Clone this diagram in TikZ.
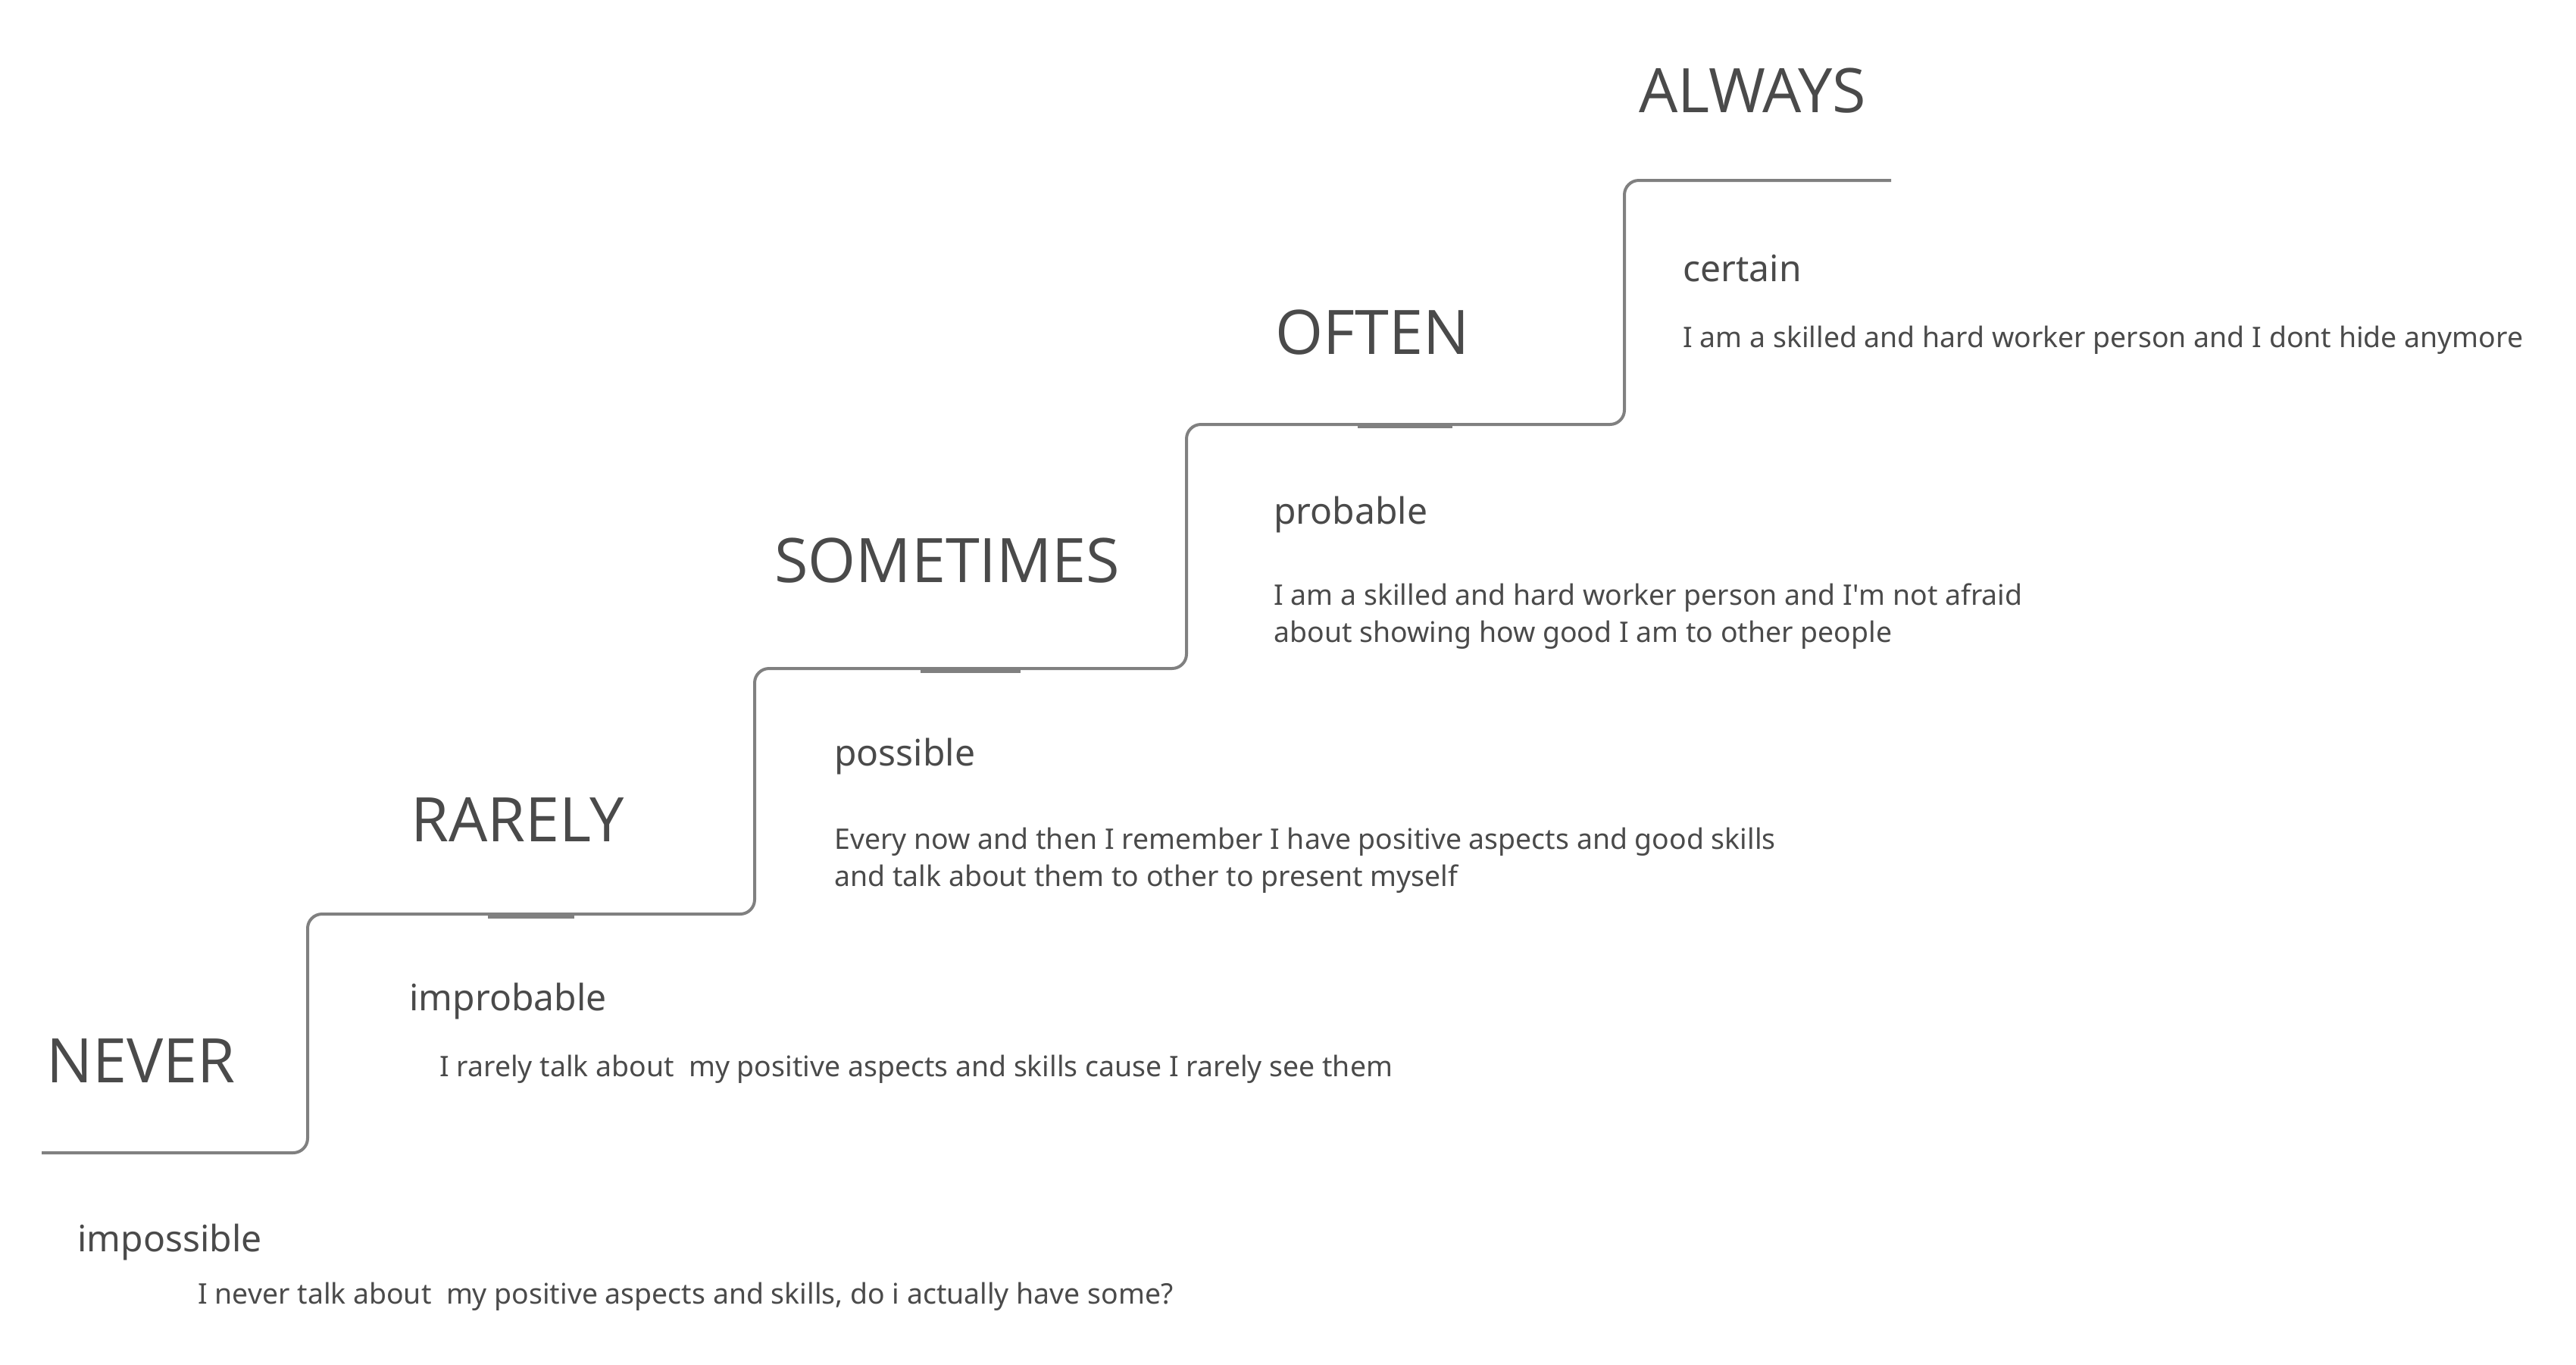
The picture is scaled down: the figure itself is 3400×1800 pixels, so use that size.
\documentclass[tikz,border=0pt]{standalone}
\usepackage{fontspec}
\setmainfont{Noto Sans}
\newfontfamily\titlefont{Open Sans}
\definecolor{inkgray}{HTML}{4A4A4A}
\definecolor{stairgray}{HTML}{808080}
\begin{document}
\begin{tikzpicture}[
    x=0.5pt, y=-0.5pt,
    level/.style={
      anchor=base west,
      inner sep=0pt,
      text=inkgray,
      font=\titlefont\fontsize{40.5}{48}\selectfont
    },
    chance/.style={
      anchor=base west,
      inner sep=0pt,
      text=inkgray,
      font=\fontsize{24}{30}\selectfont
    },
    saying/.style={
      anchor=base west,
      inner sep=0pt,
      text=inkgray,
      align=left,
      font=\fontsize{18.7}{24.5}\selectfont
    },
    stair/.style={
      draw=stairgray,
      line width=2pt,
      rounded corners=9.5pt
    },
    tread/.style={
      draw=stairgray,
      line width=3.5pt
    }
  ]
  \useasboundingbox (0,0) rectangle (3400,1800);
  % corners of the stairs
  \coordinate (s0) at (55,1521);
  \coordinate (s1) at (406,1521);
  \coordinate (s2) at (406,1206);
  \coordinate (s3) at (996,1206);
  \coordinate (s4) at (996,882);
  \coordinate (s5) at (1566,882);
  \coordinate (s6) at (1566,560);
  \coordinate (s7) at (2144,560);
  \coordinate (s8) at (2144,238);
  \coordinate (s9) at (2496,238);
  \draw[stair] (s0) -- (s1) -- (s2) -- (s3) -- (s4) -- (s5) -- (s6) -- (s7) -- (s8) -- (s9);
  % short thick marks on the treads
  \coordinate (t1a) at (644,1208);
  \coordinate (t1b) at (758,1208);
  \coordinate (t2a) at (1215,884);
  \coordinate (t2b) at (1347,884);
  \coordinate (t3a) at (1792,561);
  \coordinate (t3b) at (1917,561);
  \draw[tread] (t1a) -- (t1b);
  \draw[tread] (t2a) -- (t2b);
  \draw[tread] (t3a) -- (t3b);
  % levels
  \node[level] (never) at (61,1428) {NEVER};
  \node[level] (rarely) at (542,1110) {RARELY};
  \node[level] (sometimes) at (1022,768) {SOMETIMES};
  \node[level] (often) at (1683,467) {OFTEN};
  \node[level] (always) at (2163,148) {ALWAYS};
  % chances
  \node[chance] (impossible) at (102,1651) {impossible};
  \node[chance] (improbable) at (540,1333) {improbable};
  \node[chance] (possible) at (1101,1010) {possible};
  \node[chance] (probable) at (1681,691) {probable};
  \node[chance] (certain) at (2221,371) {certain};
  % sayings (two-line ones sit on their last line)
  \node[saying] (snever) at (261,1720) {I never talk about \ my positive aspects and skills, do i actually have some?};
  \node[saying] (srarely) at (580,1420) {I rarely talk about \ my positive aspects and skills cause I rarely see them};
  \node[saying] (ssometimes) at (1101,1169) {Every now and then I remember I have positive aspects and good skills\\and talk about them to other to present myself};
  \node[saying] (soften) at (1681,847) {I am a skilled and hard worker person and I\textquotesingle m not afraid\\about showing how good I am to other people};
  \node[saying] (salways) at (2221,458) {I am a skilled and hard worker person and I dont hide anymore};
\end{tikzpicture}
\end{document}
